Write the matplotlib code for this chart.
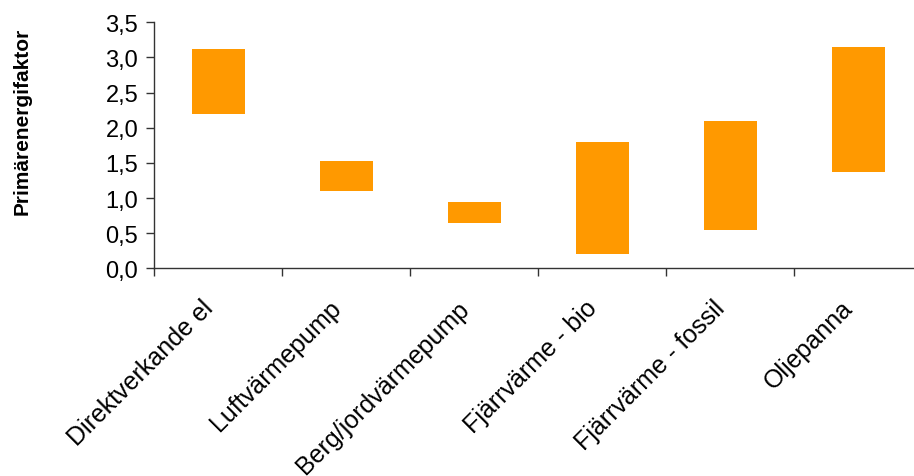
import matplotlib
matplotlib.use("Agg")
import matplotlib.pyplot as plt
from matplotlib.ticker import FuncFormatter, FixedLocator
from matplotlib.transforms import ScaledTranslation
import numpy as np

categories = ["Direktverkande el", "Luftvärmepump", "Berg/jordvärmepump",
              "Fjärrvärme - bio", "Fjärrvärme - fossil", "Oljepanna"]
low = [2.2, 1.1, 0.65, 0.2, 0.54, 1.37]
high = [3.12, 1.53, 0.95, 1.8, 2.09, 3.15]
yticks = [0.0, 0.5, 1.0, 1.5, 2.0, 2.5, 3.0, 3.5]
ylabel = "Primärenergifaktor"

plt.rcParams['font.family'] = ['Liberation Sans', 'DejaVu Sans']

W, H = 914, 477
fig = plt.figure(figsize=(W / 100, H / 100), dpi=100)
ax = fig.add_axes([154.3 / W, (H - 269.3) / H, 768 / W, 246 / H])

x = np.arange(len(categories))
heights = [h - l for h, l in zip(high, low)]
ax.bar(x, heights, bottom=low, width=0.41, color="#FF9900", linewidth=0)

ax.set_xlim(-0.5, len(categories) - 0.5)
ax.set_ylim(0, 3.5)
ax.set_yticks(yticks)
ax.yaxis.set_major_formatter(FuncFormatter(lambda v, p: f"{v:.1f}".replace(".", ",")))

ax.set_xticks(x)
ax.set_xticklabels(categories, rotation=45, ha="right", va="center",
                   rotation_mode="anchor", fontsize=18)
ax.xaxis.set_minor_locator(FixedLocator(np.arange(-0.5, len(categories), 1.0)))
ax.tick_params(axis="x", which="major", length=0, pad=28)
ax.tick_params(axis="x", which="minor", length=5.5, width=1, direction="out", color="#333333")
ax.tick_params(axis="y", which="major", length=5.5, width=1, direction="out",
               color="#333333", labelsize=17, pad=6)

shift = ScaledTranslation(-9 / 100, 3 / 100, fig.dpi_scale_trans)
for lbl in ax.get_xticklabels():
    lbl.set_transform(lbl.get_transform() + shift)

for s in ["top", "right"]:
    ax.spines[s].set_visible(False)
for s in ["left", "bottom"]:
    ax.spines[s].set_color("#333333")
    ax.spines[s].set_linewidth(1)

fig.text(22 / W, 1 - 121 / H, ylabel, rotation=90, ha="center", va="center",
         fontsize=15, fontweight="bold")

fig.savefig("out.png", dpi=100)
